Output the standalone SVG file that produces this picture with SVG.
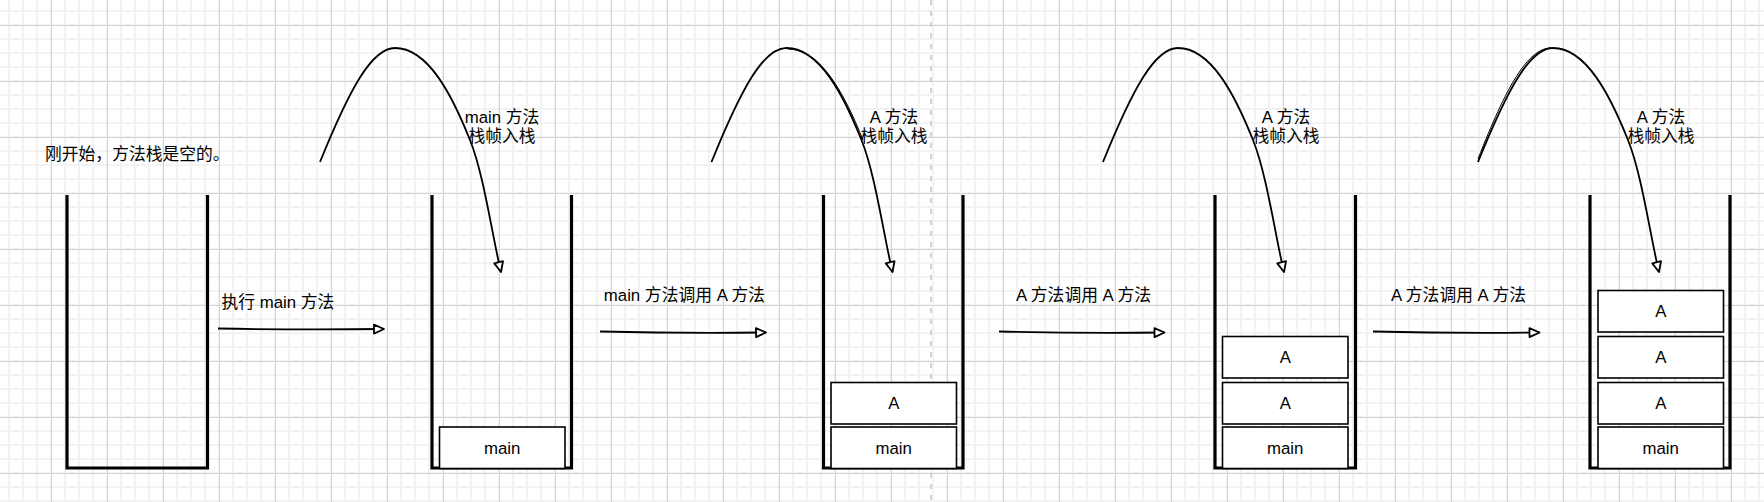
<svg xmlns="http://www.w3.org/2000/svg" width="1764" height="502" viewBox="0 0 1764 502">
<defs>
<pattern id="minor" patternUnits="userSpaceOnUse" x="8" y="10" width="14" height="14">
<rect x="0" y="0" width="2" height="14" fill="#f3f3f3"/>
<rect x="0" y="0" width="14" height="2" fill="#f3f3f3"/>
</pattern>
<pattern id="major" patternUnits="userSpaceOnUse" x="51" y="25" width="56" height="56">
<rect x="0" y="0" width="1" height="56" fill="#d4d4d4"/>
<rect x="0" y="0" width="56" height="1" fill="#d4d4d4"/>
</pattern>
<marker id="arr" markerUnits="userSpaceOnUse" viewBox="0 0 14 12" markerWidth="14" markerHeight="12" refX="12" refY="6" orient="auto">
<path d="M2,1.5 L12,6 L2,10.5 Z" fill="#fff" stroke="#000" stroke-width="1.8" stroke-linejoin="round"/>
</marker>
</defs>
<style>
.t{font-family:"Liberation Sans","Noto Sans CJK SC",sans-serif;font-size:16.8px;fill:#000}
.c{text-anchor:middle}
.stack{fill:none;stroke:#000;stroke-width:3.2;stroke-linejoin:miter}
.box{fill:#fff;stroke:#000;stroke-width:1.6}
.edge{fill:none;stroke:#000;stroke-width:1.8;marker-end:url(#arr)}
.sk{fill:none;stroke:#000;stroke-width:1}
</style>
<rect width="1764" height="502" fill="#fff"/>
<rect width="1764" height="502" fill="url(#minor)"/>
<rect width="1764" height="502" fill="url(#major)"/>
<line x1="931" y1="0" x2="931" y2="502" stroke="#c4c4c4" stroke-width="1.5" stroke-dasharray="5 6"/>

<g id="connectors">
<path class="edge" d="M218,328.5 Q300,330 384,329"/>
<path class="edge" d="M600,331.5 Q683,333.5 766,332.5"/>
<path class="edge" d="M999,331.5 Q1082,333.5 1164.5,332.5"/>
<path class="edge" d="M1373,331.5 Q1456,333.5 1539.5,332.5"/>
<path class="edge" transform="translate(432,0)" d="M-112,162 C-82,88 -60,48 -37,48 C-4,48 20,95 38,140 C52,175 60,235 69,272"/>
<path class="edge" transform="translate(823.5,0)" d="M-112,162 C-82,88 -60,48 -37,48 C-4,48 20,95 38,140 C52,175 60,235 69,272"/>
<path class="sk" transform="translate(825,0)" d="M-37,49 C-4,49 20,95 38,140"/>
<path class="edge" transform="translate(1215,0)" d="M-112,162 C-82,88 -60,48 -37,48 C-4,48 20,95 38,140 C52,175 60,235 69,272"/>
<path class="edge" transform="translate(1590,0)" d="M-112,162 C-82,88 -60,48 -37,48 C-4,48 20,95 38,140 C52,175 60,235 69,272"/>
<path class="sk" transform="translate(1588,-1)" d="M-110,160 C-82,88 -60,49 -37,49"/>
</g>

<g id="label-start"><text class="t" x="45" y="160">刚开始，方法栈是空的。</text></g>
<g id="label-e1"><text class="t" x="221.5" y="308">执行 main 方法</text></g>
<g id="label-e2"><text class="t c" x="684.5" y="300.5">main 方法调用 A 方法</text></g>
<g id="label-e3"><text class="t c" x="1083.5" y="300.5">A 方法调用 A 方法</text></g>
<g id="label-e4"><text class="t c" x="1458.5" y="300.5">A 方法调用 A 方法</text></g>
<g id="label-c2"><text class="t c" x="502" y="122.5">main 方法</text><text class="t c" x="502" y="142">栈帧入栈</text></g>
<g id="label-c3"><text class="t c" x="894" y="122.5">A 方法</text><text class="t c" x="894" y="142">栈帧入栈</text></g>
<g id="label-c4"><text class="t c" x="1286" y="122.5">A 方法</text><text class="t c" x="1286" y="142">栈帧入栈</text></g>
<g id="label-c5"><text class="t c" x="1661" y="122.5">A 方法</text><text class="t c" x="1661" y="142">栈帧入栈</text></g>

<g id="stack1"><path class="stack" d="M67,195 V468 H207.5 V195"/></g>

<g id="stack2">
<path class="stack" d="M432,195 V468 H571.5 V195"/>
<g id="s2-main"><rect class="box" x="439.5" y="427" width="125.5" height="41.5"/><text class="t c" x="502.25" y="454">main</text></g>
</g>

<g id="stack3">
<path class="stack" d="M823.5,195 V468 H963 V195"/>
<g id="s3-main"><rect class="box" x="831" y="427" width="125.5" height="41.5"/><text class="t c" x="893.75" y="454">main</text></g>
<g id="s3-a1"><rect class="box" x="831" y="382.5" width="125.5" height="41.5"/><text class="t c" x="893.75" y="409.25">A</text></g>
</g>

<g id="stack4">
<path class="stack" d="M1215,195 V468 H1355.5 V195"/>
<g id="s4-main"><rect class="box" x="1222.5" y="427" width="125.5" height="41.5"/><text class="t c" x="1285.25" y="454">main</text></g>
<g id="s4-a1"><rect class="box" x="1222.5" y="382.5" width="125.5" height="41.5"/><text class="t c" x="1285.25" y="409.25">A</text></g>
<g id="s4-a2"><rect class="box" x="1222.5" y="336.5" width="125.5" height="41.5"/><text class="t c" x="1285.25" y="363.25">A</text></g>
</g>

<g id="stack5">
<path class="stack" d="M1590,195 V468 H1730 V195"/>
<g id="s5-main"><rect class="box" x="1598" y="427" width="125.5" height="41.5"/><text class="t c" x="1660.75" y="454">main</text></g>
<g id="s5-a1"><rect class="box" x="1598" y="382.5" width="125.5" height="41.5"/><text class="t c" x="1660.75" y="409.25">A</text></g>
<g id="s5-a2"><rect class="box" x="1598" y="336.5" width="125.5" height="41.5"/><text class="t c" x="1660.75" y="363.25">A</text></g>
<g id="s5-a3"><rect class="box" x="1598" y="290.5" width="125.5" height="41.5"/><text class="t c" x="1660.75" y="317.25">A</text></g>
</g>
</svg>
